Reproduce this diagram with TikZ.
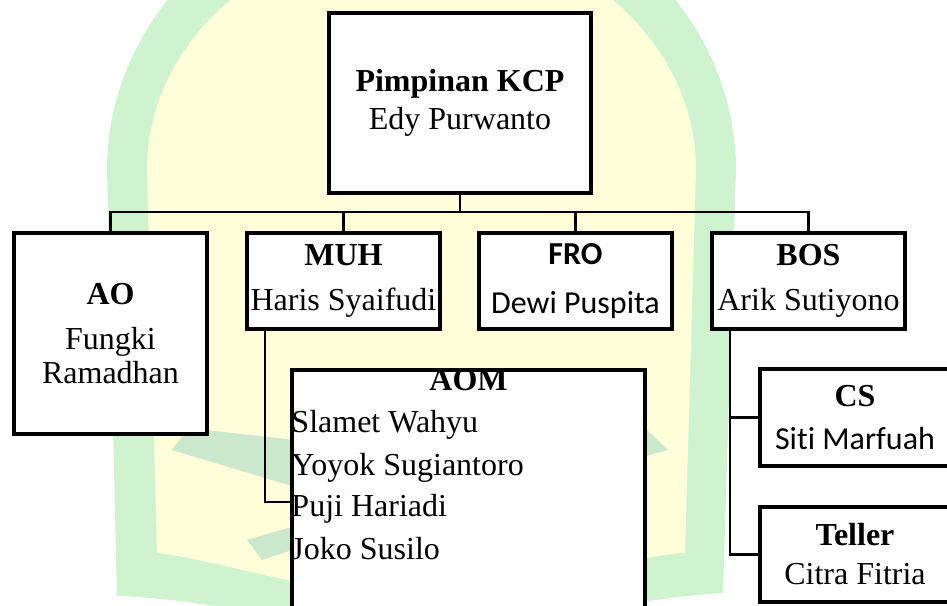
\documentclass[tikz,border=0pt]{standalone}
\usepackage{fontspec}
\setmainfont{Liberation Serif}
\newfontfamily\calibri[Ligatures=NoCommon]{Carlito}
\usetikzlibrary{positioning}

\definecolor{wmgreen}{RGB}{206,243,206}
\definecolor{wmyellow}{RGB}{255,255,218}
\definecolor{wmdark}{RGB}{204,232,204}

\tikzset{
  txt/.style={inner sep=0pt, font=\fontsize{24}{30}\selectfont},
  box/.style={txt, draw, line width=2.4pt, fill=white, align=center,
    minimum width=144.75pt, minimum height=72pt},
  link/.style={line width=1.6pt},
}

\begin{document}
\begin{tikzpicture}[x=0.75pt, y=-0.75pt]
  \useasboundingbox (0,0) rectangle (947,606);
  \clip (0,0) rectangle (947,606);
  \fill[white] (0,0) rectangle (947,606);

  % Watermark
  \fill[wmgreen] (117,596) -- (107,170) .. controls (107,11) and (247.8,-118) .. (421.5,-118)
    .. controls (595.2,-118) and (736,11) .. (736,170) -- (723,593)
    .. controls (600,600) and (500,640) .. (421,640)
    .. controls (340,640) and (240,600) .. (117,596) -- cycle;
  \fill[wmyellow] (157,553) -- (147,170) .. controls (147,39) and (270,-67) .. (421.5,-67)
    .. controls (573,-67) and (696,39) .. (696,170) -- (685,553)
    .. controls (620,556) and (520,600) .. (421,600)
    .. controls (340,600) and (220,560) .. (157,553) -- cycle;
  \fill[wmdark] (172,450) -- (188,428) -- (295,440) -- (295,487) -- cycle;
  \fill[wmdark] (247,540) -- (295,526) -- (295,549) -- (262,560) -- cycle;
  \fill[wmdark] (646,429) -- (668,450) -- (646,456) -- cycle;

  % Boxes
  \node[box, minimum width=196.5pt, minimum height=135pt] (kcp) at (460,103)
    {\textbf{Pimpinan KCP}\\[-1.5pt]Edy Purwanto};
  \node[box, minimum height=150.75pt] (ao) at (110.5,333.5)
    {\textbf{AO}\\[3.75pt]Fungki\\[-4.5pt]Ramadhan};
  \node[box] (muh) at (343.5,281) {\textbf{MUH}\\[3.75pt]Haris Syaifudi};
  \node[box, font=\calibri\fontsize{24}{30}\selectfont] (fro) at (575.5,281)
    {\textbf{FRO}\\[6.75pt]Dewi Puspita};
  \node[box] (bos) at (808.5,281) {\textbf{BOS}\\[3.75pt]Arik Sutiyono};

  \node[box, minimum width=264.75pt, minimum height=202.5pt] (aom) at (468.5,505) {};
  \node[txt, anchor=base] (aomtitle) at ([yshift=-16.5pt]aom.north) {\textbf{AOM}};
  \foreach \nm/\dy [count=\k] in {Slamet Wahyu/48, Yoyok Sugiantoro/80.25,
      Puji Hariadi/111, Joko Susilo/143.25}
    \node[txt, anchor=base west] (m\k) at ([xshift=0.6pt, yshift=-\dy pt]aom.north west) {\nm};

  \node[box, minimum width=142.5pt, minimum height=72.75pt] (cs) at (855,417.5)
    {\textbf{CS}\\[2.25pt]{\calibri Siti Marfuah}};
  \node[box, minimum width=142.5pt, minimum height=71.25pt] (teller) at (855,554.5)
    {\textbf{Teller}\\[-0.75pt]Citra Fitria};

  % Connectors
  \coordinate (bus) at (460,212);
  \draw[link] (kcp.south) -- (kcp.south |- bus);
  \draw[link] (ao.north) -- (ao.north |- bus) -- (bos.north |- bus) -- (bos.north);
  \foreach \n in {muh,fro}
    \draw[link] (\n.north) -- (\n.north |- bus);
  \draw[link] ([xshift=15pt]muh.south west) |- ([yshift=11pt]m3.base west);
  \coordinate (bosline) at ([xshift=15pt]bos.south west);
  \draw[link] (bosline) |- (teller.west);
  \draw[link] (bosline |- cs.west) -- (cs.west);
\end{tikzpicture}
\end{document}
